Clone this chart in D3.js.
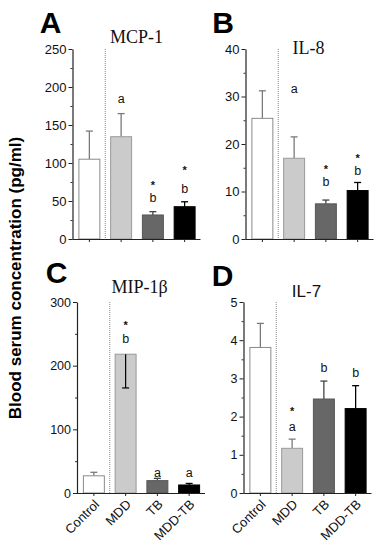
<!DOCTYPE html>
<html>
<head>
<meta charset="utf-8">
<script src="https://cdn.jsdelivr.net/npm/d3@7"></script>
<style>
  html, body { margin: 0; padding: 0; background: #fff; }
  svg { display: block; }
</style>
</head>
<body>
<svg id="chart" width="381" height="550"></svg>
<script>
// ---------------- data ----------------
const groups = ["Control", "MDD", "TB", "MDD-TB"];
const panelLetters = ["A", "B", "C", "D"];
const panelTitles = ["MCP-1", "IL-8", "MIP-1β", "IL-7"];
const yMax = [250, 40, 300, 5];
const yTickStep = [50, 10, 100, 1];

const mcp1Mean = [105, 134.6, 31.6, 42.5];
const mcp1Err  = [142, 165, 36, 49];
const il8Mean  = [25.4, 17, 7.4, 10.2];
const il8Err   = [31.2, 21.5, 8.2, 11.9];
const mip1bMean = [27, 218, 19.4, 12.6];
const mip1bErr  = [32.5, 165, 23, 15];
const il7Mean  = [3.81, 1.17, 2.46, 2.21];
const il7Err   = [4.44, 1.41, 2.93, 2.81];

// annotation text per bar and the level (data units) of each mark's centre
const mcp1Notes = [[], [["a", 184]], [["*", 75], ["b", 54]], [["*", 95], ["b", 66]]];
const il8Notes  = [[], [["a", 31.5]], [["*", 15.4], ["b", 12.1]], [["*", 17.6], ["b", 14.4]]];
const mip1bNotes = [[], [["*", 269], ["b", 242]], [["a", 32]], [["a", 32]]];
const il7Notes  = [[], [["*", 2.21], ["a", 1.74]], [["b", 3.27]], [["b", 3.13]]];

const means = [mcp1Mean, il8Mean, mip1bMean, il7Mean];
const errs = [mcp1Err, il8Err, mip1bErr, il7Err];
const notes = [mcp1Notes, il8Notes, mip1bNotes, il7Notes];
const yLabel = "Blood serum concentration (pg/ml)";

// ---------------- styles ----------------
const barFill = ["#ffffff", "#cbcbcb", "#676767", "#000000"];
const barStroke = ["#8a8a8a", "#9a9a9a", "#555555", "#000000"];
const errStroke = ["#7a7a7a", "#7a7a7a", "#444444", "#000000"];

const layout = [
  { x0: 72.5, top: 49, bottom: 239, letterX: 50.5, letterY: 33, titleX: 136.5, titleY: 43, titleFont: "'Liberation Serif', 'Times New Roman', serif", titleSize: 18, tickSize: 13, xLabels: false },
  { x0: 245.5, top: 49, bottom: 239, letterX: 223, letterY: 33, titleX: 308.5, titleY: 54, titleFont: "'Liberation Serif', 'Times New Roman', serif", titleSize: 18, tickSize: 13, xLabels: false },
  { x0: 77, top: 302, bottom: 493, letterX: 56.5, letterY: 283, titleX: 139.5, titleY: 293, titleFont: "'Liberation Serif', 'Times New Roman', serif", titleSize: 18, tickSize: 12.5, xLabels: true },
  { x0: 243.5, top: 302, bottom: 493, letterX: 222.5, letterY: 286, titleX: 306.5, titleY: 297, titleFont: "'Liberation Sans', Arial, sans-serif", titleSize: 17, tickSize: 12.5, xLabels: true }
];
const plotW = 128;
const sans = "'Liberation Sans', Arial, Helvetica, sans-serif";

const svg = d3.select("#chart");

layout.forEach((L, p) => {
  const g = svg.append("g");
  const x = d3.scaleBand().domain(groups)
    .range([L.x0 + 1, L.x0 + plotW])
    .paddingInner(0.34).paddingOuter(0.17);
  const y = d3.scaleLinear().domain([0, yMax[p]]).range([L.bottom, L.top]);

  // dotted separator between Control and MDD
  const sepX = (x("Control") + x.bandwidth() + x("MDD")) / 2;
  g.append("line")
    .attr("x1", sepX).attr("x2", sepX)
    .attr("y1", L.top).attr("y2", L.bottom)
    .attr("stroke", "#888").attr("stroke-width", 1)
    .attr("stroke-dasharray", "1,1");

  const m = means[p], e = errs[p];
  // upward error bars
  groups.forEach((grp, i) => {
    if (e[i] < m[i]) return;
    const cx = x(grp) + x.bandwidth() / 2;
    g.append("line")
      .attr("x1", cx).attr("x2", cx)
      .attr("y1", y(m[i])).attr("y2", y(e[i]))
      .attr("stroke", errStroke[i]).attr("stroke-width", 1.3);
    g.append("line")
      .attr("x1", cx - 3.5).attr("x2", cx + 3.5)
      .attr("y1", y(e[i])).attr("y2", y(e[i]))
      .attr("stroke", errStroke[i]).attr("stroke-width", 1.3);
  });

  // bars
  g.selectAll("rect.bar").data(groups).join("rect")
    .attr("class", "bar")
    .attr("x", d => x(d))
    .attr("y", (d, i) => y(m[i]))
    .attr("width", x.bandwidth())
    .attr("height", (d, i) => L.bottom - y(m[i]))
    .attr("fill", (d, i) => barFill[i])
    .attr("stroke", (d, i) => barStroke[i])
    .attr("stroke-width", 1);

  // downward error bars drawn on top of the bar
  groups.forEach((grp, i) => {
    if (e[i] >= m[i]) return;
    const cx = x(grp) + x.bandwidth() / 2;
    g.append("line").attr("x1", cx).attr("x2", cx)
      .attr("y1", y(m[i])).attr("y2", y(e[i]))
      .attr("stroke", "#000").attr("stroke-width", 1.2);
    g.append("line").attr("x1", cx - 3.5).attr("x2", cx + 3.5)
      .attr("y1", y(e[i])).attr("y2", y(e[i]))
      .attr("stroke", "#000").attr("stroke-width", 1.2);
  });

  // annotations: one stacked text per bar, each mark centred on its level
  groups.forEach((grp, i) => {
    if (!notes[p][i].length) return;
    const cx = x(grp) + x.bandwidth() / 2;
    const t = g.append("text")
      .attr("text-anchor", "middle")
      .attr("font-family", sans)
      .attr("fill", "#111");
    notes[p][i].forEach(([s, lvl]) => {
      const isStar = s === "*";
      const fs = isStar ? 11 : 12.5;
      t.append("tspan")
        .attr("x", cx)
        .attr("y", y(lvl) + (isStar ? 0.62 : 0.32) * fs)
        .attr("font-weight", isStar ? "bold" : "normal")
        .attr("font-size", fs)
        .text(s);
    });
  });

  // minor ticks on y
  const minorAxis = d3.axisLeft(y)
    .tickValues(d3.range(yTickStep[p] / 2, yMax[p], yTickStep[p]))
    .tickSize(2).tickFormat("");
  const gm = g.append("g").attr("transform", `translate(${L.x0},0)`).call(minorAxis);
  gm.select(".domain").remove();
  gm.selectAll("line").attr("stroke", "#333");

  // y axis
  const yAxis = d3.axisLeft(y)
    .tickValues(d3.range(0, yMax[p] + yTickStep[p] / 2, yTickStep[p]))
    .tickFormat(d3.format("~g"))
    .tickSize(4).tickPadding(2).tickSizeOuter(0);
  const gy = g.append("g").attr("transform", `translate(${L.x0},0)`).call(yAxis);
  gy.select(".domain").attr("stroke", "#222").attr("stroke-width", 1.2);
  gy.selectAll(".tick line").attr("stroke", "#222");
  gy.selectAll("text").attr("font-family", sans).attr("font-size", L.tickSize).attr("fill", "#111");

  // x axis
  const xAxis = d3.axisBottom(x).tickSize(3).tickSizeOuter(0).tickFormat(L.xLabels ? null : "");
  const gx = g.append("g").attr("transform", `translate(0,${L.bottom})`).call(xAxis);
  gx.select(".domain").attr("d", `M${L.x0},0.5H${L.x0 + plotW}`).attr("stroke", "#222").attr("stroke-width", 1.2);
  gx.selectAll(".tick line").attr("stroke", "#222");
  if (L.xLabels) {
    gx.selectAll(".tick text")
      .attr("font-family", sans).attr("font-size", 13).attr("fill", "#111")
      .attr("text-anchor", "end")
      .attr("x", 0).attr("y", 0)
      .attr("dy", "0.35em")
      .attr("transform", "translate(3,9) rotate(-45)");
  }

  // panel letter
  g.append("text")
    .attr("x", L.letterX).attr("y", L.letterY)
    .attr("text-anchor", "middle")
    .attr("font-family", sans).attr("font-weight", "bold").attr("font-size", 30)
    .attr("fill", "#000")
    .text(panelLetters[p]);

  // title
  g.append("text")
    .attr("x", L.titleX).attr("y", L.titleY)
    .attr("text-anchor", "middle")
    .attr("font-family", L.titleFont).attr("font-size", L.titleSize)
    .attr("fill", "#111")
    .text(panelTitles[p]);
});

// shared y label
svg.append("text")
  .attr("transform", "translate(21,278) rotate(-90)")
  .attr("text-anchor", "middle")
  .attr("font-family", sans).attr("font-weight", "bold").attr("font-size", 17)
  .attr("fill", "#000")
  .text(yLabel);
</script>
</body>
</html>
